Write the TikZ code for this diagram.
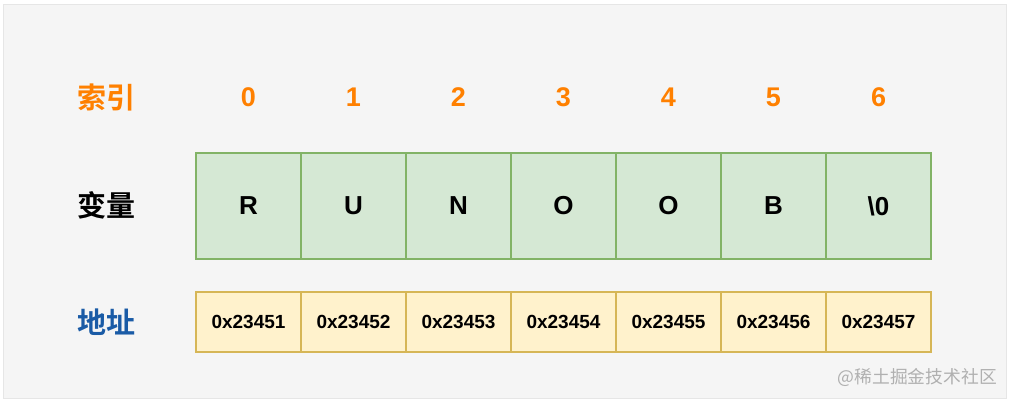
\documentclass[tikz,border=0pt]{standalone}
\usepackage{fontspec}
\setmainfont{Liberation Sans}
\newfontfamily\cjk{Noto Sans CJK SC}
\newfontfamily\cjkb{Noto Sans CJK SC}[BoldFont={* Bold}]
\definecolor{bgc}{HTML}{F5F5F5}
\definecolor{bgline}{HTML}{E6E6E6}
\definecolor{gfill}{HTML}{D5E8D4}
\definecolor{gline}{HTML}{82B366}
\definecolor{yfill}{HTML}{FFF2CC}
\definecolor{yline}{HTML}{D6B656}
\definecolor{orng}{HTML}{FF8000}
\definecolor{blu}{HTML}{1A5BA6}
\definecolor{wm}{HTML}{B0B0B0}
\tikzset{
  cell/.style={draw=gline, fill=gfill, line width=1.5pt, minimum width=105pt, minimum height=106pt, inner sep=0pt, font=\fontsize{26}{26}\selectfont\bfseries},
  addr/.style={draw=yline, fill=yfill, line width=1.5pt, minimum width=105pt, minimum height=60pt, inner sep=0pt, font=\fontsize{19}{19}\selectfont\bfseries},
  idx/.style={text=orng, font=\fontsize{27}{27}\selectfont\bfseries, inner sep=0pt},
  rowlab/.style={font=\cjk\fontsize{29}{29}\selectfont\bfseries, inner sep=0pt},
}
\begin{document}
\begin{tikzpicture}[x=1pt,y=-1pt]
\useasboundingbox (0,0) rectangle (1010,402);
\fill[white] (0,0) rectangle (1010,402);
\draw[bgline, fill=bgc, line width=1pt] (3,4) rectangle (1006,398);
\node[rowlab, text=orng] (lidx) at (106,97) {\cjkb\textbf{索引}};
\node[rowlab, text=black] (lvar) at (106,205) {\cjkb\textbf{变量}};
\node[rowlab, text=blu] (ladr) at (106,322) {\cjkb\textbf{地址}};
\foreach \i/\ch/\ad in {0/R/0x23451,1/U/0x23452,2/N/0x23453,3/O/0x23454,4/O/0x23455,5/B/0x23456,6/{\textbackslash 0}/0x23457}{
  \node[idx] (i\i) at (248.5+105*\i,97) {\i};
  \node[cell] (c\i) at (248.5+105*\i,206) {\ch};
  \node[addr] (a\i) at (248.5+105*\i,322) {\ad};
}
\node[text=wm, font=\cjk\fontsize{17.8}{17.8}\selectfont, inner sep=0pt, anchor=east] (wmk) at (997,377) {@稀土掘金技术社区};
\end{tikzpicture}
\end{document}
